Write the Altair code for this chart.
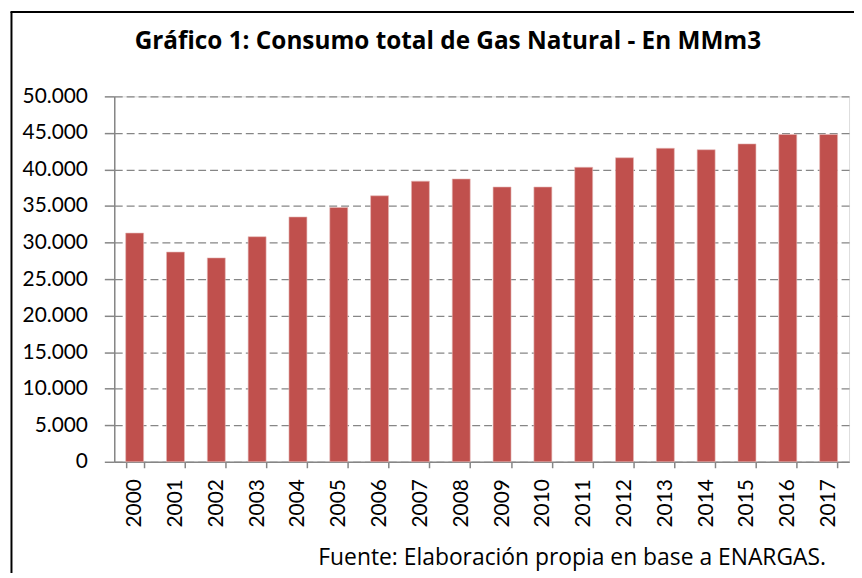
import altair as alt
import pandas as pd

years = ["2000", "2001", "2002", "2003", "2004", "2005", "2006", "2007", "2008",
         "2009", "2010", "2011", "2012", "2013", "2014", "2015", "2016", "2017"]
consumo = [31300, 28700, 27900, 30800, 33500, 34800, 36400, 38400, 38700,
           37600, 37600, 40300, 41600, 42900, 42700, 43500, 44800, 44800]
title_text = "Gráfico 1: Consumo total de Gas Natural - En MMm3"
source_text = "Fuente: Elaboración propia en base a ENARGAS."

df = pd.DataFrame({"anio": years, "consumo": consumo})

FONT = "Lato"
GRAY = "#868686"

bars = alt.Chart(df).mark_bar(color="#C0504D", stroke="#E6B9B8", strokeWidth=0.6).encode(
    x=alt.X(
        "anio:N",
        sort=years,
        scale=alt.Scale(paddingInner=0.56, paddingOuter=0.28),
        axis=alt.Axis(
            title=source_text,
            titleX=205,
            titleY=103,
            titleAlign="left",
            titleBaseline="alphabetic",
            titleAnchor="start",
            titleFont="Open Sans",
            titleFontSize=23,
            titleFontWeight="normal",
            titleColor="#000000",
            labelAngle=-90,
            labelAlign="right",
            labelBaseline="middle",
            labelFont=FONT,
            labelFontSize=21,
            labelColor="#000000",
            labelPadding=11,
            tickBand="extent",
            tickSize=6,
            tickColor=GRAY,
            tickWidth=1.5,
            domainColor=GRAY,
            domainWidth=1.5,
            grid=False,
        ),
    ),
    y=alt.Y(
        "consumo:Q",
        scale=alt.Scale(domain=[0, 50000]),
        axis=alt.Axis(
            title=None,
            values=list(range(0, 50001, 5000)),
            labelExpr="replace(format(datum.value, ','), ',', '.')",
            labelFont=FONT,
            labelFontSize=21,
            labelColor="#000000",
            labelPadding=17,
            tickSize=10,
            tickColor=GRAY,
            tickWidth=1.5,
            domainColor=GRAY,
            domainWidth=1.5,
            grid=True,
            gridColor=GRAY,
            gridDash=[8, 4],
            gridWidth=1.2,
        ),
    ),
)

border_data = alt.Data(values=[{"k": 1}])
left_line = alt.Chart(border_data).mark_rule(color="#000000", strokeWidth=2).encode(
    x=alt.value(-103.5), y=alt.value(-85), y2=alt.value(520)
)
top_line = alt.Chart(border_data).mark_rule(color="#000000", strokeWidth=2).encode(
    x=alt.value(-104.5), x2=alt.value(800), y=alt.value(-85)
)

chart = alt.layer(bars, left_line, top_line).properties(
    width=740,
    height=368,
    autosize=alt.AutoSizeParams(type="none"),
    padding={"left": 107, "top": 87, "right": 5, "bottom": 110},
    title=alt.TitleParams(
        text=title_text,
        font="Open Sans",
        fontSize=24.5,
        fontWeight="bold",
        color="#000000",
        anchor="middle",
        frame="group",
        baseline="alphabetic",
        dx=-34,
        dy=63,
        offset=0,
    ),
).configure_view(stroke=None).configure(background="#ffffff")

chart.save("out.html", embed_options={"renderer": "svg", "actions": False})
